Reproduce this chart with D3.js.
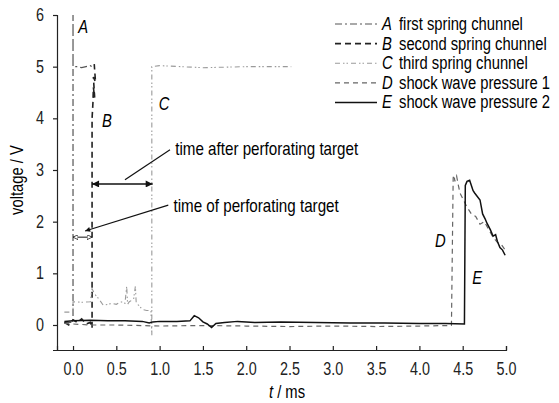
<!DOCTYPE html>
<html>
<head>
<meta charset="utf-8">
<script src="https://cdn.jsdelivr.net/npm/d3@7"></script>
<style>
  body { margin: 0; background: #fff; }
  svg { display: block; font-family: "Liberation Sans", Arial, sans-serif; }
  .tick text { fill: #222; }
  .domain, .tick line { stroke: #222; stroke-width: 1.2; }
</style>
</head>
<body>
<svg id="chart" width="559" height="403"></svg>
<script>
// series (time in ms, voltage in V)
const tA = [-0.1, -0.05, 0.0, 0.0, 0.0, 0.05, 0.1, 0.15, 0.2, 0.22];
const vA = [0.04, 0.05, 0.05, 6.0, 5.0, 5.0, 4.98, 5.0, 5.02, 5.0];

const tB = [-0.1, -0.05, 0.0, 0.05, 0.1, 0.15, 0.2, 0.22, 0.22, 0.23, 0.235, 0.25, 0.235, 0.26, 0.245, 0.24];
const vB = [0.05, 0.0, 0.1, 0.05, 0.12, 0.02, 0.05, -0.06, 4.0, 4.3, 4.6, 4.4, 4.8, 4.7, 5.05, 5.0];

const tC = [-0.1, -0.02, 0.0, 0.0, 0.1, 0.2, 0.22, 0.25, 0.3, 0.35, 0.4, 0.45, 0.5, 0.55, 0.6, 0.62, 0.63, 0.65, 0.7, 0.72, 0.73, 0.76, 0.8, 0.85, 0.9, 0.91, 0.91, 0.915, 1.0, 1.5, 2.0, 2.52];
const vC = [0.25, 0.25, 0.25, 0.45, 0.44, 0.45, 0.7, 0.6, 0.5, 0.38, 0.4, 0.42, 0.4, 0.45, 0.42, 0.75, 0.4, 0.45, 0.5, 0.75, 0.42, 0.38, 0.3, 0.28, 0.28, -0.2, 5.0, 5.0, 5.02, 4.98, 5.0, 5.0];

const tD = [-0.1, 0.2, 0.5, 1.0, 1.5, 2.0, 2.5, 3.0, 3.5, 4.0, 4.37, 4.39, 4.4, 4.41, 4.43, 4.45, 4.47, 4.5, 4.55, 4.6, 4.65, 4.7, 4.75, 4.8, 4.85, 4.9, 4.95, 4.99];
const vD = [0.03, 0.0, 0.0, -0.02, -0.01, -0.02, -0.03, -0.02, -0.03, -0.02, -0.01, 2.85, 2.9, 2.78, 2.88, 2.7, 2.55, 2.45, 2.28, 2.15, 2.1, 1.95, 2.0, 1.85, 1.7, 1.6, 1.55, 1.45];

const tE = [-0.1, 0, 0.2, 0.4, 0.6, 0.8, 0.88, 0.92, 1.0, 1.2, 1.35, 1.4, 1.45, 1.5, 1.55, 1.6, 1.65, 1.75, 1.9, 2.1, 2.4, 2.8, 3.2, 3.6, 4.0, 4.3, 4.52, 4.53, 4.55, 4.58, 4.62, 4.64, 4.7, 4.73, 4.76, 4.78, 4.82, 4.85, 4.88, 4.9, 4.93, 4.96, 4.99];
const vE = [0.07, 0.08, 0.09, 0.08, 0.08, 0.07, 0.04, 0.06, 0.07, 0.07, 0.08, 0.18, 0.14, 0.06, 0.02, -0.05, 0.03, 0.05, 0.07, 0.05, 0.06, 0.05, 0.04, 0.04, 0.03, 0.03, 0.02, 2.7, 2.78, 2.8, 2.6, 2.55, 2.42, 2.15, 2.05, 1.97, 1.84, 1.72, 1.75, 1.62, 1.5, 1.45, 1.35];

const xTicks = [0.0, 0.5, 1.0, 1.5, 2.0, 2.5, 3.0, 3.5, 4.0, 4.5, 5.0];
const yTicks = [0, 1, 2, 3, 4, 5, 6];

const letters = ['A', 'B', 'C', 'D', 'E'];
const names = ['first spring chunnel', 'second spring chunnel', 'third spring chunnel',
               'shock wave pressure 1', 'shock wave pressure 2'];
// where the trace letters sit, [t, v]
const letterPos = [[0.06, 5.65], [0.335, 3.83], [0.99, 4.16], [4.18, 1.5], [4.61, 0.79]];

const svg = d3.select('#chart');

const x = d3.scaleLinear().domain([-0.185, 5.0]).range([57, 506]);
const y = d3.scaleLinear().domain([-0.484, 6]).range([350, 15]);

// the original font is a narrow one; squeeze the glyphs to match
function narrow(sel) {
  sel.each(function () {
    const w = this.getComputedTextLength();
    d3.select(this).attr('textLength', w * 0.82).attr('lengthAdjust', 'spacingAndGlyphs');
  });
}

const styles = [
  { color: '#555', dash: '7,3,2,3', width: 1.2 },
  { color: '#222', dash: '6,4', width: 1.6 },
  { color: '#9a9a9a', dash: '5,3,1.5,2,1.5,3', width: 1.1 },
  { color: '#666', dash: '5,4', width: 1.2 },
  { color: '#111', dash: null, width: 1.5 }
];

const series = [[tA, vA], [tB, vB], [tC, vC], [tD, vD], [tE, vE]];

const line = d3.line().x(d => x(d[0])).y(d => y(d[1]));

series.forEach((s, i) => {
  const pts = s[0].map((t, j) => [t, s[1][j]]);
  svg.append('path')
    .attr('d', line(pts))
    .attr('fill', 'none')
    .attr('stroke', styles[i].color)
    .attr('stroke-width', styles[i].width)
    .attr('stroke-dasharray', styles[i].dash);
});

// axes
svg.append('g')
  .attr('transform', 'translate(0,350)')
  .call(d3.axisBottom(x).tickValues(xTicks).tickFormat(d3.format('.1f')).tickSize(-4).tickPadding(13));

svg.append('g')
  .attr('transform', 'translate(57,0)')
  .call(d3.axisLeft(y).tickValues(yTicks).tickFormat(d3.format('d')).tickSize(4).tickPadding(9));

svg.selectAll('.tick text').style('font-size', '17.5px').attr('font-family', null).call(narrow);

// axis titles
svg.append('text')
  .attr('x', 287).attr('y', 398)
  .attr('text-anchor', 'middle')
  .style('font-size', '18px')
  .html('<tspan font-style="italic">t</tspan> / ms')
  .call(narrow);

svg.append('text')
  .attr('transform', 'translate(23,180) rotate(-90)')
  .attr('text-anchor', 'middle')
  .style('font-size', '18px')
  .text('voltage / V')
  .call(narrow);

// trace letters
letterPos.forEach((p, i) => {
  svg.append('text')
    .attr('x', x(p[0])).attr('y', y(p[1]))
    .style('font-size', '18px')
    .style('font-style', 'italic')
    .text(letters[i])
    .call(narrow);
});

// annotations
const defs = svg.append('defs');
defs.append('marker')
  .attr('id', 'head').attr('viewBox', '0 0 10 10')
  .attr('refX', 10).attr('refY', 5)
  .attr('markerWidth', 9).attr('markerHeight', 5)
  .attr('markerUnits', 'userSpaceOnUse')
  .attr('orient', 'auto-start-reverse')
  .append('path').attr('d', 'M0,0L10,5L0,10Z').attr('fill', '#111');
defs.append('marker')
  .attr('id', 'bighead').attr('viewBox', '0 0 10 10')
  .attr('refX', 10).attr('refY', 5)
  .attr('markerWidth', 12).attr('markerHeight', 7)
  .attr('markerUnits', 'userSpaceOnUse')
  .attr('orient', 'auto-start-reverse')
  .append('path').attr('d', 'M0,0L10,5L0,10Z').attr('fill', '#111');
defs.append('marker')
  .attr('id', 'hollow').attr('viewBox', '0 0 10 10')
  .attr('refX', 10).attr('refY', 5)
  .attr('markerWidth', 5).attr('markerHeight', 5)
  .attr('markerUnits', 'userSpaceOnUse')
  .attr('orient', 'auto-start-reverse')
  .append('path').attr('d', 'M0,0L10,5L0,10Z').attr('fill', '#fff').attr('stroke', '#111').attr('stroke-width', 1.5);

const spans = [
  { t0: 0.0, t1: 0.22, v: 1.7, marker: 'hollow', w: 1 },
  { t0: 0.22, t1: 0.92, v: 2.73, marker: 'bighead', w: 1.6 }
];
spans.forEach(s => {
  svg.append('line')
    .attr('x1', x(s.t0)).attr('x2', x(s.t1))
    .attr('y1', y(s.v)).attr('y2', y(s.v))
    .attr('stroke', '#111').attr('stroke-width', s.w)
    .attr('marker-start', `url(#${s.marker})`)
    .attr('marker-end', `url(#${s.marker})`);
});

const notes = [
  { text: 'time after perforating target', tx: 1.18, ty: 3.39, from: [1.12, 3.39], to: [0.6, 2.81], arrow: false },
  { text: 'time of perforating target', tx: 1.16, ty: 2.28, from: [1.1, 2.32], to: [0.14, 1.82], arrow: true }
];
notes.forEach(n => {
  svg.append('line')
    .attr('x1', x(n.from[0])).attr('y1', y(n.from[1]))
    .attr('x2', x(n.to[0])).attr('y2', y(n.to[1]))
    .attr('stroke', '#111').attr('stroke-width', 1.2)
    .attr('marker-end', n.arrow ? 'url(#head)' : null);
  svg.append('text')
    .attr('x', x(n.tx)).attr('y', y(n.ty) + 5)
    .style('font-size', '18.5px')
    .text(n.text)
    .call(narrow);
});

// legend
const lg = svg.append('g');
letters.forEach((l, i) => {
  const cy = 24 + 19.6 * i;
  lg.append('line')
    .attr('x1', 335).attr('x2', 377).attr('y1', cy).attr('y2', cy)
    .attr('stroke', styles[i].color).attr('stroke-width', styles[i].width)
    .attr('stroke-dasharray', styles[i].dash);
  lg.append('text')
    .attr('x', 382).attr('y', cy + 6)
    .style('font-size', '18px').style('font-style', 'italic')
    .text(l)
    .call(narrow);
  lg.append('text')
    .attr('x', 399).attr('y', cy + 6)
    .style('font-size', '18px')
    .text(names[i])
    .call(narrow);
});
</script>
</body>
</html>
